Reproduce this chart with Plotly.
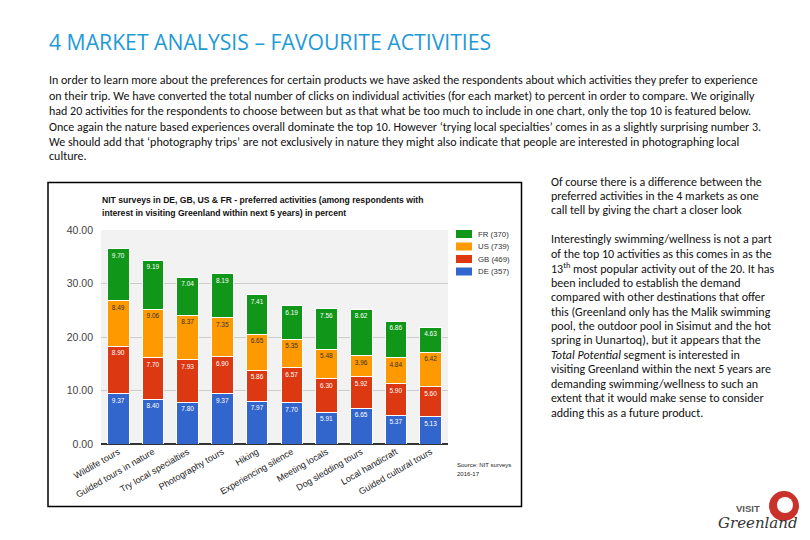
import plotly.graph_objects as go

W, H = 810, 540

activities = ["Wildlife tours", "Guided tours in nature", "Try local specialties", "Photography tours",
              "Hiking", "Experiencing silence", "Meeting locals", "Dog sledding tours",
              "Local handicraft", "Guided cultural tours"]
de = [9.37, 8.40, 7.80, 9.37, 7.97, 7.70, 5.91, 6.65, 5.37, 5.13]
gb = [8.90, 7.70, 7.93, 6.90, 5.86, 6.57, 6.30, 5.92, 5.90, 5.60]
us = [8.49, 9.06, 8.37, 7.35, 6.65, 5.35, 5.48, 3.96, 4.84, 6.42]
fr = [9.70, 9.19, 7.04, 8.19, 7.41, 6.19, 7.56, 8.62, 6.86, 4.63]

series_names = ["DE (357)", "GB (469)", "US (739)", "FR (370)"]
series_values = [de, gb, us, fr]
series_colors = ["#3366CC", "#DC3912", "#FF9900", "#109618"]
label_colors = ["#ffffff", "#ffffff", "#333333", "#ffffff"]

y_ticks = [0, 10, 20, 30, 40]

title_text = "4 MARKET ANALYSIS \u2013 FAVOURITE ACTIVITIES"
para_lines = [
    "In order to learn more about the preferences for certain products we have asked the respondents about which activities they prefer to experience",
    "on their trip. We have converted the total number of clicks on individual activities (for each market) to percent in order to compare. We originally",
    "had 20 activities for the respondents to choose between but as that what be too much to include in one chart, only the top 10 is featured below.",
    "Once again the nature based experiences overall dominate the top 10. However \u2018trying local specialties\u2019 comes in as a slightly surprising number 3.",
    "We should add that \u2018photography trips\u2019 are not exclusively in nature they might also indicate that people are interested in photographing local",
    "culture.",
]
side_lines = [
    "Of course there is a difference between the",
    "preferred activities in the 4 markets as one",
    "call tell by giving the chart a closer look",
    "",
    "Interestingly swimming/wellness is not a part",
    "of the top 10 activities as this comes in as the",
    "13<sup>th</sup> most popular activity out of the 20. It has",
    "been included to establish the demand",
    "compared with other destinations that offer",
    "this (Greenland only has the Malik swimming",
    "pool, the outdoor pool in Sisimut and the hot",
    "spring in Uunartoq), but it appears that the",
    "<i>Total Potential</i> segment is interested in",
    "visiting Greenland within the next 5 years are",
    "demanding swimming/wellness to such an",
    "extent that it would make sense to consider",
    "adding this as a future product.",
]
chart_title_lines = [
    "NIT surveys in DE, GB, US & FR - preferred activities (among respondents with",
    "interest in visiting Greenland within next 5 years) in percent",
]
source_lines = ["Source: NIT surveys", "2016-17"]


def px(x):
    return x / W


def py(y):
    return 1 - y / H


BODY_FONT = "Carlito, Calibri, Lato, sans-serif"
TITLE_FONT = "Open Sans, sans-serif"
CHART_FONT = "Liberation Sans, Arial, sans-serif"

fig = go.Figure()
for name, vals, col, lc in zip(series_names, series_values, series_colors, label_colors):
    fig.add_trace(go.Bar(
        x=activities, y=vals, name=name,
        marker=dict(color=col, line=dict(color="#ffffff", width=1)),
        text=[f"{v:.2f}" for v in vals],
        textposition="inside", insidetextanchor="end",
        textfont=dict(size=6.5, color=lc, family=CHART_FONT),
        textangle=0, showlegend=False, hoverinfo="skip",
    ))

annotations = []
shapes = []

# slide title
annotations.append(dict(x=px(47), y=py(41), xref="paper", yref="paper", xanchor="left", yanchor="middle",
                        text=title_text, showarrow=False,
                        font=dict(family=TITLE_FONT, size=21.2, color="#1E9AD6")))
# paragraph
para_y = [80, 96, 111, 127, 142, 156]
for t, yy in zip(para_lines, para_y):
    annotations.append(dict(x=px(47), y=py(yy), xref="paper", yref="paper", xanchor="left", yanchor="middle",
                            text=t, showarrow=False, font=dict(family=BODY_FONT, size=12, color="#111111")))
# side text
for i, t in enumerate(side_lines):
    if not t:
        continue
    yy = 181.5 + i * 14.45
    annotations.append(dict(x=px(549), y=py(yy), xref="paper", yref="paper", xanchor="left", yanchor="middle",
                            text=t, showarrow=False, font=dict(family=BODY_FONT, size=12, color="#111111")))

# chart frame
shapes.append(dict(type="rect", xref="paper", yref="paper", x0=px(48), x1=px(521.5), y0=py(506.5), y1=py(182.5),
                   line=dict(color="#000000", width=1.5), fillcolor="rgba(0,0,0,0)", layer="above"))
# chart title
for i, t in enumerate(chart_title_lines):
    annotations.append(dict(x=px(100), y=py(200 + i * 12.5), xref="paper", yref="paper", xanchor="left",
                            yanchor="middle", text=f"<b>{t}</b>", showarrow=False,
                            font=dict(family=CHART_FONT, size=8.6, color="#111111")))
# legend (reversed order)
for k, idx in enumerate(reversed(range(len(series_names)))):
    yc = 234 + k * 12.5
    shapes.append(dict(type="rect", xref="paper", yref="paper", x0=px(456), x1=px(472),
                       y0=py(yc + 4), y1=py(yc - 4), fillcolor=series_colors[idx], line=dict(width=0)))
    annotations.append(dict(x=px(476), y=py(yc), xref="paper", yref="paper", xanchor="left", yanchor="middle",
                            text=series_names[idx], showarrow=False,
                            font=dict(family=CHART_FONT, size=7.8, color="#333333")))
# source
for i, t in enumerate(source_lines):
    annotations.append(dict(x=px(455), y=py(465 + i * 9), xref="paper", yref="paper", xanchor="left",
                            yanchor="middle", text=t, showarrow=False,
                            font=dict(family=CHART_FONT, size=6, color="#222222")))

# logo
shapes.append(dict(type="circle", xref="paper", yref="paper", x0=px(769), x1=px(799), y0=py(521), y1=py(491),
                   fillcolor="#C8322B", line=dict(width=0)))
shapes.append(dict(type="circle", xref="paper", yref="paper", x0=px(777), x1=px(793), y0=py(513), y1=py(497),
                   fillcolor="#ffffff", line=dict(width=0)))
annotations.append(dict(x=px(734), y=py(508), xref="paper", yref="paper", xanchor="left", yanchor="middle",
                        text="<b>VISIT</b>", showarrow=False,
                        font=dict(family=CHART_FONT, size=9.5, color="#555555")))
annotations.append(dict(x=px(716), y=py(523), xref="paper", yref="paper", xanchor="left", yanchor="middle",
                        text="<i>Greenland</i>", showarrow=False,
                        font=dict(family="DejaVu Serif, serif", size=15, color="#333333")))

fig.update_layout(
    width=W, height=H, margin=dict(l=0, r=0, t=0, b=0),
    paper_bgcolor="#ffffff", plot_bgcolor="#F2F2F2",
    barmode="stack", bargap=0.38,
    annotations=annotations, shapes=shapes, showlegend=False,
    xaxis=dict(domain=[px(101), px(448)], tickangle=-30, showgrid=False, ticks="",
               tickfont=dict(family=CHART_FONT, size=9, color="#222222"), automargin=False),
    yaxis=dict(domain=[py(444), py(230)], range=[0, 40], tickvals=y_ticks, tickformat=".2f",
               gridcolor="#CCCCCC", gridwidth=1, zeroline=True, zerolinecolor="#333333", zerolinewidth=1.5,
               tickfont=dict(family=CHART_FONT, size=10.5, color="#444444"), ticklabelstandoff=7,
               automargin=False),
)

fig.write_html("out.html", config={"displayModeBar": False},
               post_script="document.body.style.margin='0';document.body.style.padding='0';"
                           "document.body.style.overflow='hidden';")
